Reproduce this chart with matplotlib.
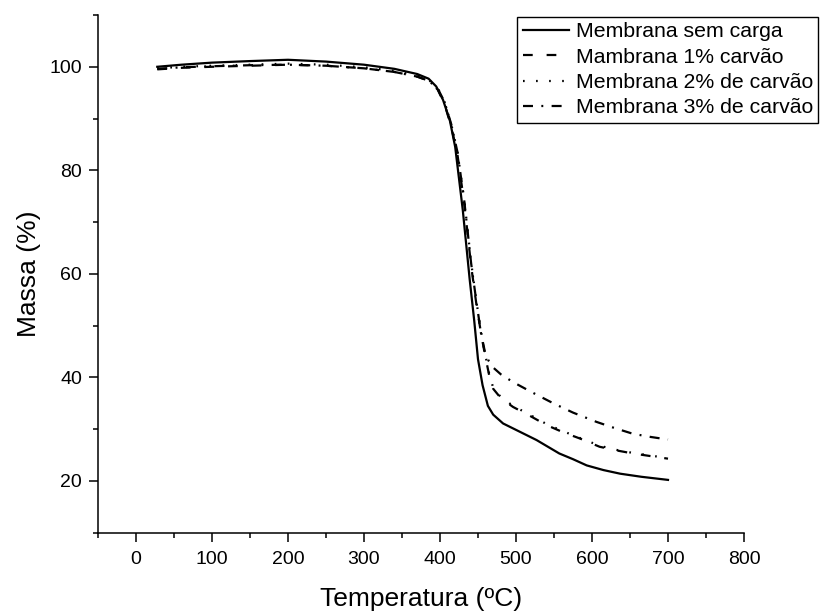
import matplotlib
matplotlib.use("Agg")
import matplotlib.pyplot as plt
from matplotlib.ticker import MultipleLocator

plt.rcParams['font.family'] = ['Liberation Sans', 'DejaVu Sans']
plt.rcParams['lines.scale_dashes'] = False

# Data
labels = ["Membrana sem carga", "Mambrana 1% carvão",
          "Membrana 2% de carvão", "Membrana 3% de carvão"]

T0 = [28, 60, 100, 150, 200, 250, 300, 340, 370, 385, 395, 404, 413, 420, 430, 439,
      445, 450, 456, 463, 470, 483, 505, 527, 542, 557, 575, 593, 615, 637, 665, 700]
M0 = [100.0, 100.4, 100.8, 101.1, 101.35, 101.0, 100.4, 99.6, 98.6, 97.7, 96.2, 93.6,
      89.6, 84.5, 72.3, 59.0, 51.0, 43.5, 38.5, 34.5, 32.8, 31.1, 29.5, 27.9, 26.6,
      25.3, 24.2, 23.0, 22.1, 21.4, 20.8, 20.2]

T1 = [28, 60, 100, 150, 200, 250, 300, 340, 370, 385, 397, 406, 415, 423, 432, 441,
      448, 454, 459, 465, 470, 480, 496, 518, 540, 562, 584, 610, 632, 654, 677, 700]
M1 = [99.5, 99.8, 100.0, 100.2, 100.4, 100.2, 99.7, 99.0, 98.1, 97.3, 95.6, 92.8,
      88.3, 83.0, 73.5, 61.5, 54.0, 48.5, 44.5, 40.2, 37.8, 36.0, 34.3, 32.6, 30.8,
      29.4, 28.2, 26.6, 25.9, 25.3, 24.8, 24.3]

T2 = T1
M2 = [99.7, 100.0, 100.2, 100.4, 100.6, 100.4, 99.9, 99.2, 98.3, 97.5, 95.9, 93.2,
      88.8, 83.6, 74.2, 62.2, 54.6, 48.8, 44.8, 40.5, 38.0, 36.2, 34.5, 32.8, 31.0,
      29.6, 28.3, 26.8, 26.0, 25.4, 24.9, 24.4]

T3 = [28, 60, 100, 150, 200, 250, 300, 340, 370, 385, 397, 406, 415, 423, 432, 441,
      448, 454, 459, 464, 470, 480, 496, 520, 549, 575, 606, 630, 654, 677, 700]
M3 = [99.6, 99.9, 100.1, 100.3, 100.4, 100.2, 99.7, 99.0, 98.1, 97.3, 95.8, 93.2,
      88.8, 83.5, 74.0, 62.0, 54.5, 48.5, 45.0, 43.2, 41.9, 40.6, 39.1, 37.2, 35.0,
      33.2, 31.4, 30.2, 29.1, 28.5, 28.0]

fig = plt.figure(figsize=(8.24, 6.15), dpi=100)
ax = fig.add_axes([98/824, 1 - 532.7/615, (744-98)/824, (532.7-15)/615])

lw = 1.6
ax.plot(T0, M0, color='black', lw=lw, linestyle='-', label=labels[0])
ax.plot(T1, M1, color='black', lw=lw, linestyle=(0, (7, 10)), label=labels[1])
ax.plot(T2, M2, color='black', lw=lw, linestyle=(0, (1.2, 8.2)), label=labels[2])
ax.plot(T3, M3, color='black', lw=lw, linestyle=(0, (7.2, 6, 1.4, 6)), label=labels[3])

ax.set_xlim(-50, 800)
ax.set_ylim(10, 110)
ax.xaxis.set_major_locator(MultipleLocator(100))
ax.xaxis.set_minor_locator(MultipleLocator(50))
ax.yaxis.set_major_locator(MultipleLocator(20))
ax.yaxis.set_minor_locator(MultipleLocator(10))

for s in ['top', 'right']:
    ax.spines[s].set_visible(False)
for s in ['left', 'bottom']:
    ax.spines[s].set_linewidth(1.1)

ax.tick_params(which='major', direction='out', length=6.5, width=1.1,
               labelsize=14, pad=6.5)
ax.tick_params(which='minor', direction='out', length=3.5, width=1.1)
ax.tick_params(axis='y', which='major', pad=5)

ax.set_xlabel("Temperatura (ºC)", fontsize=19, labelpad=14)
ax.set_ylabel("Massa (%)", fontsize=19, labelpad=6)

leg = fig.legend(loc='upper left', bbox_to_anchor=(517/824, 1 - 16.7/615),
                 bbox_transform=fig.transFigure, fontsize=15.3, frameon=True,
                 fancybox=False, framealpha=1, edgecolor='black',
                 borderpad=0.26, labelspacing=0.3, handlelength=2.2,
                 handletextpad=0.3, borderaxespad=0)
leg.get_frame().set_linewidth(1.0)

fig.savefig("out.png", dpi=100)
